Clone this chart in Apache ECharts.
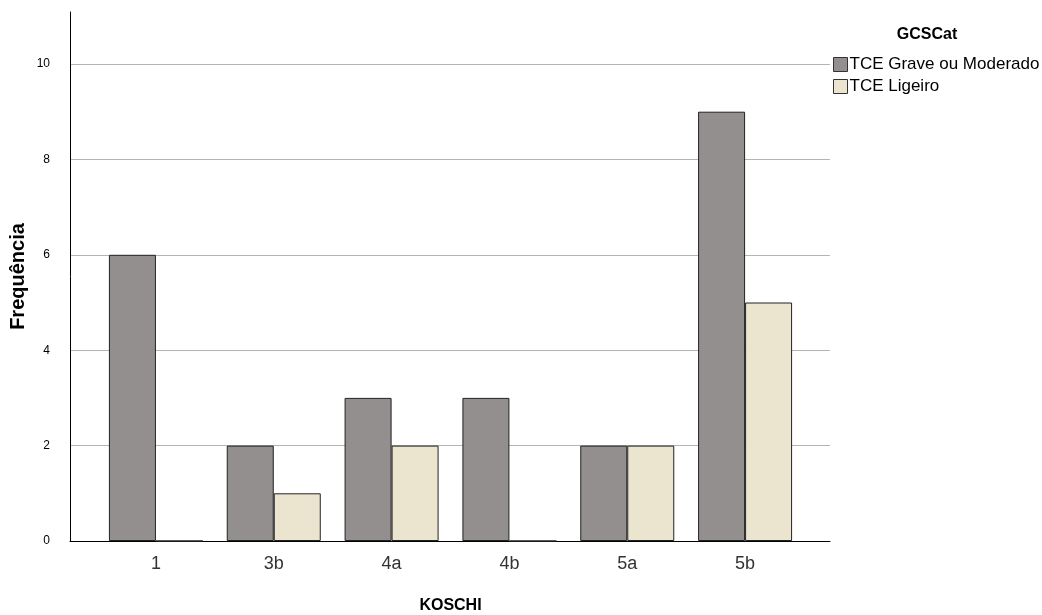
<!DOCTYPE html>
<html>
<head>
<meta charset="utf-8">
<script src="https://cdn.jsdelivr.net/npm/echarts@6/dist/echarts.min.js"></script>
<style>html,body{margin:0;padding:0;background:#fff}#c{width:1042px;height:615px}</style>
</head>
<body>
<div id="c"></div>
<script>
const categories = ['1', '3b', '4a', '4b', '5a', '5b'];
const graveValues = [6, 2, 3, 3, 2, 9];
const ligeiroValues = [0, 1, 2, 0, 2, 5];
const seriesNames = ['TCE Grave ou Moderado', 'TCE Ligeiro'];
const yTicks = [0, 2, 4, 6, 8, 10];

const FONT = 'Liberation Sans, Arial, sans-serif';
const chart = echarts.init(document.getElementById('c'), null, {renderer: 'canvas'});
const yMax = yTicks[yTicks.length - 1];
chart.setOption({
  animation: false,
  backgroundColor: '#fff',
  title: {
    text: 'GCSCat', left: 922, top: 22, textAlign: 'center',
    textStyle: {fontFamily: FONT, fontSize: 16, fontWeight: 'bold', color: '#000'}
  },
  legend: {
    orient: 'vertical', left: 833, top: 56, itemWidth: 14, itemHeight: 14, itemGap: 5,
    icon: 'rect', padding: 0,
    textStyle: {fontFamily: FONT, fontSize: 17, lineHeight: 14, color: '#000', padding: [0, 0, 0, -3]},
    itemStyle: {borderColor: '#333', borderWidth: 1},
    data: seriesNames
  },
  grid: [
    {left: 70, right: 212, top: 12, bottom: 74, outerBoundsMode: 'none', containLabel: false},
    {left: 70, right: 212, top: 64, bottom: 74, outerBoundsMode: 'none', containLabel: false},
    {left: 97, right: 238, top: 64, bottom: 74, outerBoundsMode: 'none', containLabel: false}
  ],
  xAxis: [
    {gridIndex: 0, type: 'category', data: categories, axisLine: {lineStyle: {color: '#000', width: 1}},
     axisTick: {show: false}, axisLabel: {show: false}, splitLine: {show: false}},
    {gridIndex: 1, type: 'category', data: categories, show: false},
    {gridIndex: 2, type: 'category', data: categories, axisLine: {show: false}, axisTick: {show: false},
     axisLabel: {margin: 14, fontFamily: FONT, fontSize: 18, color: '#333'},
     name: 'KOSCHI', nameLocation: 'middle', nameGap: 57,
     nameTextStyle: {fontFamily: FONT, fontSize: 16, fontWeight: 'bold', color: '#000'}}
  ],
  yAxis: [
    {gridIndex: 0, type: 'value', min: 0, max: 11,
     axisLine: {show: true, onZero: false, lineStyle: {color: '#000'}},
     axisTick: {show: false}, axisLabel: {show: false}, splitLine: {show: false},
     name: 'Frequência', nameLocation: 'middle', nameGap: 42,
     nameTextStyle: {fontFamily: FONT, fontSize: 20, fontWeight: 'bold', color: '#000'}},
    {gridIndex: 1, type: 'value', min: 0, max: yMax, interval: 2,
     axisLine: {show: false}, axisTick: {show: false},
     axisLabel: {fontFamily: FONT, fontSize: 12, color: '#000', margin: 20},
     splitLine: {show: true, lineStyle: {color: '#b4b4b4', width: 1}}},
    {gridIndex: 2, type: 'value', min: 0, max: yMax, show: false}
  ],
  series: [
    {name: seriesNames[0], type: 'bar', xAxisIndex: 2, yAxisIndex: 2, data: graveValues,
     barWidth: 47, barGap: '0%',
     itemStyle: {color: '#938f8e', borderColor: '#222', borderWidth: 1}},
    {name: seriesNames[1], type: 'bar', xAxisIndex: 2, yAxisIndex: 2, data: ligeiroValues,
     barWidth: 47, barGap: '0%',
     itemStyle: {color: '#ebe5d0', borderColor: '#222', borderWidth: 1}}
  ]
});
</script>
</body>
</html>
